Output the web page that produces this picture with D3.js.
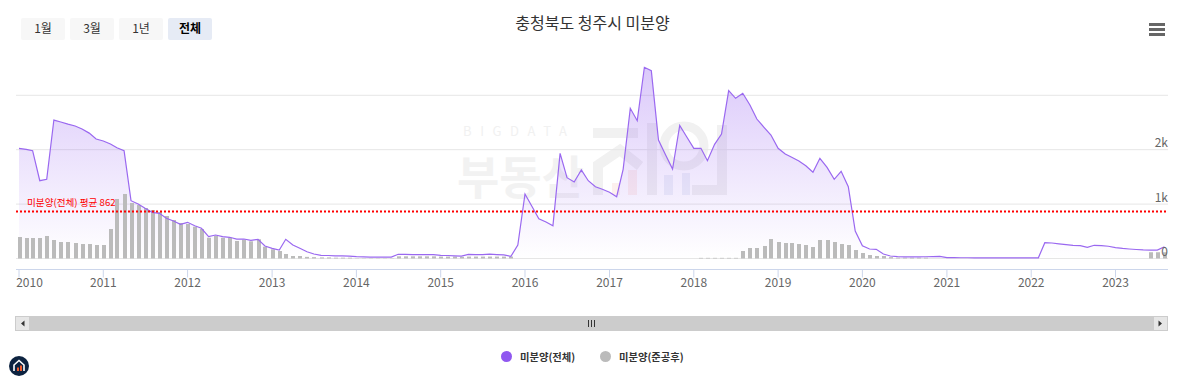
<!DOCTYPE html>
<html>
<head>
<meta charset="utf-8">
<script src="https://cdn.jsdelivr.net/npm/d3@7"></script>
<style>
  body { margin: 0; background: #fff; }
  svg { display: block; }
  text { font-family: "Noto Sans CJK KR", "Noto Sans", sans-serif; }
</style>
</head>
<body>
<div class="chart"></div>
<script>
var svgWidth = 1186;
var svgHeight = 387;

var titleText = "충청북도 청주시 미분양";
var rangeButtons = ["1월", "3월", "1년", "전체"];
var seriesNames = ["미분양(전체)", "미분양(준공후)"];
var averageValue = 862;
var averageLabel = "미분양(전체) 평균 862";
var yearTicks = [2010, 2011, 2012, 2013, 2014, 2015, 2016, 2017, 2018, 2019, 2020, 2021, 2022, 2023];
var gridValues = [0, 1000, 2000, 3000];
var yLabelValues = [0, 1000, 2000];

// monthly, 2010-01 to 2023-08
var totalValues = [
  2025, 2007, 1982, 1430, 1455, 2545, 2510, 2470, 2435, 2380, 2305, 2197,
  2160, 2105, 2037, 1982, 1063, 1002, 922, 849, 830, 739, 689, 628,
  665, 603, 555, 401, 432, 401, 390, 358, 358, 334, 353, 230,
  187, 156, 353, 248, 187, 125, 83, 59, 55, 50, 50, 45,
  33, 30, 27, 27, 25, 25, 77, 75, 72, 70, 70, 70,
  58, 55, 50, 45, 77, 72, 72, 80, 72, 65, 40, 248,
  1186, 952, 732, 671, 603, 1934, 1485, 1406, 1627, 1430, 1320, 1272,
  1217, 1136, 1640, 2761, 2533, 3515, 3452, 2178, 1903, 1645, 2448, 2239,
  2025, 2025, 1798, 2099, 2289, 3085, 2945, 3037, 2822, 2564, 2412, 2270,
  2025, 1921, 1860, 1792, 1706, 1585, 1842, 1676, 1456, 1603, 1320, 505,
  235, 175, 169, 83, 46, 33, 30, 30, 30, 32, 35, 40,
  15, 15, 14, 14, 13, 13, 13, 13, 13, 13, 13, 13,
  13, 13, 290, 285, 270, 255, 240, 235, 206, 243, 235, 225,
  199, 185, 175, 165, 158, 155, 155, 217
];
var completedValues = [
  395, 377, 377, 377, 414, 340, 303, 303, 285, 266, 266, 248,
  248, 542, 1094, 1186, 1020, 983, 928, 891, 855, 781, 708, 653,
  634, 585, 542, 382, 414, 382, 382, 322, 346, 316, 353, 217,
  169, 138, 83, 46, 46, 30, 25, 20, 20, 15, 15, 15,
  5, 5, 5, 5, 5, 5, 40, 40, 40, 40, 40, 40,
  35, 35, 35, 30, 35, 35, 35, 35, 35, 35, 35, 0,
  0, 0, 0, 0, 0, 0, 0, 0, 0, 0, 0, 0,
  0, 0, 0, 0, 0, 0, 0, 0, 0, 0, 0, 0,
  0, 12, 12, 12, 12, 12, 12, 138, 193, 193, 230, 358,
  303, 285, 285, 266, 248, 211, 340, 340, 303, 266, 248, 156,
  101, 64, 46, 46, 25, 15, 15, 15, 15, 15, 0, 0,
  0, 0, 0, 0, 0, 0, 0, 0, 0, 0, 0, 0,
  0, 0, 0, 0, 0, 0, 0, 0, 0, 0, 0, 0,
  0, 0, 0, 0, 0, 115, 115, 115
];

var months = d3.utcMonths(new Date(Date.UTC(2010, 0, 1)), new Date(Date.UTC(2023, 8, 1)));
if (months.length !== totalValues.length || months.length !== completedValues.length) {
  console.error("length mismatch", months.length, totalValues.length, completedValues.length);
}

var svg = d3
  .select(".chart")
  .append("svg")
  .attr("width", svgWidth)
  .attr("height", svgHeight);

var plotLeft = 16;
var plotRight = 1168;
var axisY = 269.5;

var xScale = d3.scaleUtc()
  .domain([new Date(Date.UTC(2010, 0, 1)), new Date(Date.UTC(2023, 0, 1))])
  .range([18.5, 1115]);

var yScale = d3.scaleLinear()
  .domain([0, 3000])
  .range([258.5, 95.3]);

var defs = svg.append("defs");

var areaGradient = defs.append("linearGradient")
  .attr("id", "areaFill")
  .attr("gradientUnits", "userSpaceOnUse")
  .attr("x1", 0).attr("x2", 0)
  .attr("y1", yScale(3515)).attr("y2", yScale(0));
areaGradient.append("stop").attr("offset", "0%").attr("stop-color", "#9058f0").attr("stop-opacity", 0.32);
areaGradient.append("stop").attr("offset", "100%").attr("stop-color", "#9058f0").attr("stop-opacity", 0);

defs.append("clipPath")
  .attr("id", "plotClip")
  .append("rect")
  .attr("x", plotLeft).attr("y", 40)
  .attr("width", plotRight - plotLeft).attr("height", 230);

// watermark behind the plot
var mark = svg.append("g").attr("class", "watermark");
mark.append("text")
  .attr("x", 463).attr("y", 136)
  .attr("font-size", 13)
  .attr("letter-spacing", 8.6)
  .attr("fill", "#f1f1f1")
  .text("BIGDATA");
mark.append("text")
  .attr("x", 457).attr("y", 194)
  .attr("font-size", 46)
  .attr("font-weight", 700)
  .attr("fill", "#f2f2f2")
  .text("부동산");
mark.append("path")
  .attr("d", "M593 133H638 M598 195V165L620 150L640 166 M652 123V195 M722 125V190H692")
  .attr("fill", "none")
  .attr("stroke", "#f1f1f1")
  .attr("stroke-width", 10);
mark.append("circle")
  .attr("cx", 684).attr("cy", 146).attr("r", 20)
  .attr("fill", "none").attr("stroke", "#f1f1f1").attr("stroke-width", 9);
mark.append("rect").attr("x", 628).attr("y", 170).attr("width", 9).attr("height", 25).attr("fill", "#fdf0ee");
mark.append("rect").attr("x", 612).attr("y", 183).attr("width", 8).attr("height", 12).attr("fill", "#fdf0ee");
mark.append("rect").attr("x", 664).attr("y", 175).attr("width", 9).attr("height", 20).attr("fill", "#eef1f8");
mark.append("rect").attr("x", 682).attr("y", 173).attr("width", 8).attr("height", 22).attr("fill", "#eef1f8");

// grid lines
svg.append("g")
  .selectAll("line")
  .data(gridValues)
  .enter()
  .append("line")
  .attr("x1", plotLeft)
  .attr("x2", plotRight)
  .attr("y1", d => yScale(d))
  .attr("y2", d => yScale(d))
  .attr("stroke", "#e6e6e6");

var plot = svg.append("g").attr("clip-path", "url(#plotClip)");

var area = d3.area()
  .x((d, i) => xScale(months[i]) + 0.5)
  .y0(yScale(0))
  .y1(d => yScale(d));

var line = d3.line()
  .x((d, i) => xScale(months[i]) + 0.5)
  .y(d => yScale(d));

plot.append("path")
  .datum(totalValues)
  .attr("d", area)
  .attr("fill", "url(#areaFill)");

plot.selectAll(".bar")
  .data(completedValues)
  .enter()
  .append("rect")
  .attr("class", "bar")
  .attr("x", (d, i) => Math.round(xScale(months[i])) - 1)
  .attr("y", d => yScale(d))
  .attr("width", 4)
  .attr("height", d => yScale(0) - yScale(d))
  .attr("fill", "#bbbbbb");

plot.append("path")
  .datum(totalValues)
  .attr("d", line)
  .attr("fill", "none")
  .attr("stroke", "#9a68f0")
  .attr("stroke-width", 1.2);

// average line and its label
svg.append("line")
  .attr("x1", plotLeft)
  .attr("x2", plotRight)
  .attr("y1", yScale(averageValue))
  .attr("y2", yScale(averageValue))
  .attr("stroke", "#ff0000")
  .attr("stroke-width", 2)
  .attr("stroke-dasharray", "2,2");

svg.append("text")
  .attr("x", 27)
  .attr("y", 205.5)
  .attr("font-size", 9.6)
  .attr("fill", "#ff0000")
  .text(averageLabel);

// x axis
var bottomAxis = d3.axisBottom(xScale)
  .tickValues(yearTicks.map(y => new Date(Date.UTC(y, 0, 1))))
  .tickFormat(d3.utcFormat("%Y"))
  .tickSizeInner(8)
  .tickSizeOuter(0);

var xAxis = svg.append("g")
  .attr("transform", `translate(0, ${axisY})`)
  .call(bottomAxis);
xAxis.select(".domain").remove();
xAxis.append("line")
  .attr("x1", plotLeft).attr("x2", plotRight)
  .attr("stroke", "#ccd6eb");
xAxis.selectAll(".tick line").attr("stroke", "#ccd6eb");
xAxis.selectAll(".tick text")
  .attr("y", 9)
  .attr("dy", "0.72em")
  .attr("font-size", 12)
  .attr("font-family", "\"Noto Sans CJK KR\", sans-serif")
  .attr("fill", "#666666")
  .filter(d => d.getUTCFullYear() === 2010)
  .attr("dx", 10.5);

// y labels sit on the right, just above each grid line
var rightAxis = d3.axisLeft(yScale)
  .tickValues(yLabelValues)
  .tickFormat(d => d === 0 ? "0" : (d / 1000) + "k")
  .tickSize(0);

var yAxis = svg.append("g")
  .attr("transform", `translate(${plotRight + 3}, 0)`)
  .call(rightAxis);
yAxis.select(".domain").remove();
yAxis.selectAll(".tick text")
  .attr("y", -3)
  .attr("dy", 0)
  .attr("font-size", 12)
  .attr("font-family", "\"Noto Sans CJK KR\", sans-serif")
  .attr("fill", "#666666");

// title
svg.append("text")
  .attr("x", 592.5)
  .attr("y", 29)
  .attr("text-anchor", "middle")
  .attr("font-size", 16)
  .attr("fill", "#333333")
  .text(titleText);

// range buttons
var buttons = svg.append("g")
  .selectAll("g")
  .data(rangeButtons)
  .enter()
  .append("g")
  .attr("transform", (d, i) => `translate(${21 + i * 49}, 18)`);

buttons.append("rect")
  .attr("width", 44)
  .attr("height", 22)
  .attr("rx", 2)
  .attr("fill", (d, i) => i === 3 ? "#e6ebf5" : "#f7f7f7");

buttons.append("text")
  .attr("x", 22)
  .attr("y", 15)
  .attr("text-anchor", "middle")
  .attr("font-size", 12)
  .attr("font-weight", (d, i) => i === 3 ? 700 : 400)
  .attr("fill", (d, i) => i === 3 ? "#000000" : "#333333")
  .text(d => d);

// export menu icon
svg.append("g")
  .selectAll("line")
  .data([24.5, 29.5, 34.5])
  .enter()
  .append("line")
  .attr("x1", 1149)
  .attr("x2", 1165)
  .attr("y1", d => d)
  .attr("y2", d => d)
  .attr("stroke", "#666666")
  .attr("stroke-width", 3);

// scrollbar
var scrollbar = svg.append("g");
scrollbar.append("rect")
  .attr("x", 15).attr("y", 316)
  .attr("width", 1153).attr("height", 15)
  .attr("fill", "#cccccc");
scrollbar.append("rect")
  .attr("x", 16).attr("y", 317)
  .attr("width", 13).attr("height", 13)
  .attr("fill", "#e6e6e6");
scrollbar.append("rect")
  .attr("x", 1154).attr("y", 317)
  .attr("width", 13).attr("height", 13)
  .attr("fill", "#e6e6e6");
scrollbar.append("path")
  .attr("d", "M21 323.5L24.5 320.5V326.5Z M1162 323.5L1158.5 320.5V326.5Z")
  .attr("fill", "#333333");
scrollbar.append("path")
  .attr("d", "M588.5 320V327 M591.5 320V327 M594.5 320V327")
  .attr("stroke", "#333333")
  .attr("fill", "none");

// legend
var legendColors = ["#9058f0", "#bbbbbb"];
var legendX = [506.5, 605.5];
var legend = svg.append("g")
  .selectAll("g")
  .data(seriesNames)
  .enter()
  .append("g")
  .attr("transform", (d, i) => `translate(${legendX[i]}, 356.5)`);

legend.append("circle")
  .attr("r", 5.5)
  .attr("fill", (d, i) => legendColors[i]);

legend.append("text")
  .attr("x", 13.5)
  .attr("y", 4)
  .attr("font-size", 10.3)
  .attr("font-weight", 700)
  .attr("fill", "#333333")
  .text(d => d);

// site badge, bottom left
var badge = svg.append("g").attr("transform", "translate(19, 366)");
badge.append("circle").attr("r", 10).attr("fill", "#0d2340");
badge.append("path")
  .attr("d", "M-5 5V-1L0 -5.5L5 -1V5")
  .attr("fill", "none")
  .attr("stroke", "#ffffff")
  .attr("stroke-width", 1.6);
badge.append("rect").attr("x", -2).attr("y", 1.5).attr("width", 2).attr("height", 3.5).attr("fill", "#f0592a");
badge.append("rect").attr("x", 1).attr("y", -0.5).attr("width", 2).attr("height", 5.5).attr("fill", "#f0592a");
</script>
</body>
</html>
